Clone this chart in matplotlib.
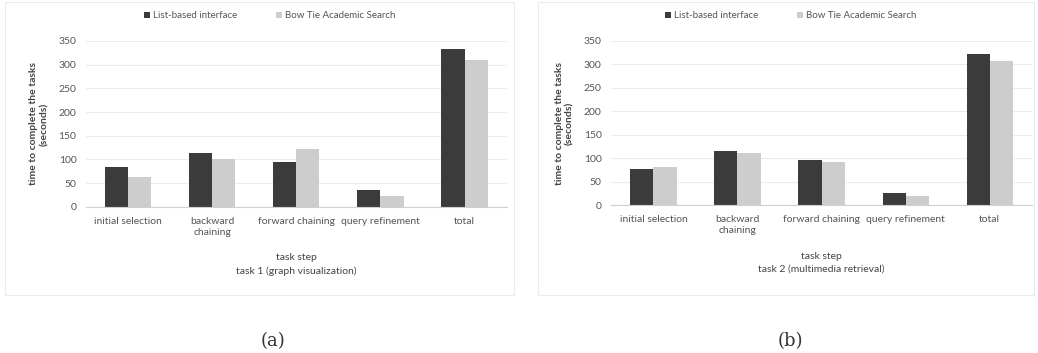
import matplotlib.pyplot as plt
import numpy as np
from matplotlib.patches import Rectangle

steps = ["initial selection", "backward\nchaining", "forward chaining",
         "query refinement", "total"]
series_names = ["List-based interface", "Bow Tie Academic Search"]

# task 1 (graph visualization)
task1_list = [84, 114, 95, 36, 333]
task1_bowtie = [63, 101, 122, 23, 310]

# task 2 (multimedia retrieval)
task2_list = [77, 115, 96, 26, 323]
task2_bowtie = [81, 111, 92, 19, 308]

panels = [
    ("task 1 (graph visualization)", task1_list, task1_bowtie, "(a)"),
    ("task 2 (multimedia retrieval)", task2_list, task2_bowtie, "(b)"),
]

dark = "#3b3b3b"
light = "#cdcdcd"
font = ["Lato", "DejaVu Sans"]
plt.rcParams["font.family"] = font


def draw_panel(fig, rect, box, title, list_vals, bowtie_vals, caption, cap_x, leg_x):
    # faint frame round each chart
    fig.patches.append(Rectangle((box[0], box[1]), box[2], box[3], transform=fig.transFigure,
                                 fill=False, edgecolor="#ebebeb", linewidth=0.8))
    ax = fig.add_axes(rect)
    x = np.arange(len(steps))
    w = 0.275
    b1 = ax.bar(x - w / 2, list_vals, w, color=dark, label=series_names[0])
    b2 = ax.bar(x + w / 2, bowtie_vals, w, color=light, label=series_names[1])
    ax.set_xlim(-0.5, len(steps) - 0.5)
    ax.set_ylim(0, 350)
    ax.set_yticks(range(0, 351, 50))
    ax.yaxis.grid(True, color="#ececec", linewidth=0.8)
    ax.set_axisbelow(True)
    for s in ["top", "right", "left"]:
        ax.spines[s].set_visible(False)
    ax.spines["bottom"].set_color("#d0d0d0")
    ax.tick_params(axis="both", length=0, labelsize=7.5, colors="#555555", pad=7)
    ax.set_xticks(x)
    ax.set_xticklabels(steps, fontsize=7.5, color="#555555", linespacing=1.3)
    ax.set_xlabel("task step\n" + title, fontsize=7.5, color="#444444", labelpad=12,
                  linespacing=1.5)
    ax.set_ylabel("time to complete the tasks\n(seconds)", fontsize=7.5, fontweight="bold",
                  color="#444444", labelpad=7)
    fig.legend(handles=[b1, b2], labels=series_names, loc="center", ncol=2,
               bbox_to_anchor=(leg_x, 0.955), frameon=False, fontsize=7,
               handlelength=0.6, handleheight=0.6, columnspacing=4, handletextpad=0.3,
               labelcolor="#555555")
    fig.text(cap_x, 0.035, caption, fontsize=13, family="DejaVu Serif", ha="center",
             va="center", color="#333333")
    return ax


def main():
    fig = plt.figure(figsize=(10.38, 3.53), dpi=100)
    draw_panel(fig, [0.083, 0.414, 0.405, 0.47], [0.005, 0.165, 0.49, 0.83],
               *panels[0], 0.263, 0.26)
    draw_panel(fig, [0.589, 0.419, 0.405, 0.465], [0.518, 0.165, 0.478, 0.83],
               *panels[1], 0.761, 0.762)
    fig.savefig("out.png", dpi=100, facecolor="white")


if __name__ == '__main__':
    main()
